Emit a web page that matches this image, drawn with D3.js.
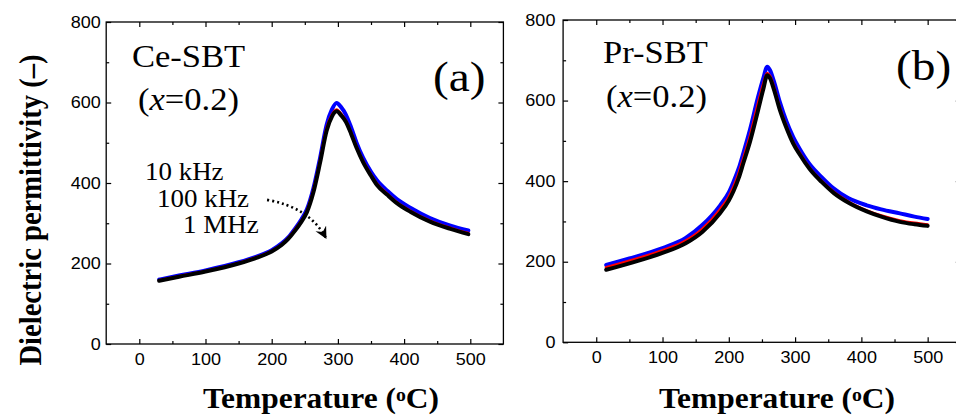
<!DOCTYPE html>
<html>
<head>
<meta charset="utf-8">
<script src="https://cdn.jsdelivr.net/npm/d3@7"></script>
<style>
  body { margin: 0; background: #fff; }
  svg { display: block; }
</style>
</head>
<body>
<svg width="956" height="419"></svg>
<script>
// (a) Ce-SBT, x=0.2
const tempA = [30, 60, 100, 150, 175, 200, 215, 225, 235, 245, 253, 263, 273, 283, 291, 298, 305, 312, 320, 328, 338, 350, 359, 375, 389, 410, 439, 470, 497]
const epsA10k = [160, 170, 183, 203, 216, 233, 250, 265, 286, 310, 334, 387, 462, 545, 583, 599, 588, 570, 538, 501, 463, 428, 407, 380, 360, 338, 313, 294, 282]
const epsA100k = [158, 168, 181, 201, 214, 231, 247, 263, 283, 306, 329, 381, 454, 535, 569, 582, 571, 554, 524, 490, 454, 420, 398, 372, 352, 330, 306, 288, 275]
const epsA1M = [157, 167, 180, 200, 213, 230, 246, 261, 281, 304, 327, 377, 450, 530, 565, 578, 568, 552, 522, 488, 452, 418, 395, 370, 350, 328, 304, 286, 273]

// (b) Pr-SBT, x=0.2
const tempB = [15, 50, 100, 135, 160, 187, 200, 207, 215, 222, 232, 244, 252, 258, 262, 268, 277, 287, 297, 307, 322, 340, 358, 380, 408, 430, 458, 480, 500]
const epsB10k = [192, 208, 234, 259, 291, 340, 372, 398, 432, 470, 528, 608, 655, 684, 676, 648, 596, 548, 510, 480, 442, 410, 382, 358, 340, 330, 320, 312, 306]
const epsB100k = [186, 202, 228, 252, 281, 330, 361, 385, 419, 456, 511, 591, 640, 668, 661, 633, 581, 535, 497, 469, 432, 400, 373, 349, 327, 314, 302, 296, 292]
const epsB1M = [180, 196, 222, 246, 274, 321, 352, 375, 408, 445, 498, 575, 628, 663, 656, 628, 577, 532, 494, 466, 430, 398, 371, 347, 325, 312, 299, 293, 289]

const majorX = [0, 100, 200, 300, 400, 500]
const minorX = [50, 150, 250, 350, 450]
const majorY = [0, 200, 400, 600, 800]
const minorY = [100, 300, 500, 700]
const freqLabels = ['10 kHz', '100 kHz', '1 MHz']

const seriesColors = ['#0000ff', '#ff0000', '#000000']
const seriesWidths = [4, 3, 4]

const serif = "'Liberation Serif', 'Times New Roman', Times, serif"
const sans = "'Liberation Sans', Arial, sans-serif"
// the original figure is a bit wider than tall, so glyphs look stretched sideways
const SX = 1.1

const svg = d3.select('svg')
svg.append('rect').attr('width', 956).attr('height', 419).attr('fill', '#fff')

const defs = svg.append('defs')
defs.append('marker')
  .attr('id', 'arrow')
  .attr('markerUnits', 'userSpaceOnUse')
  .attr('markerWidth', 14)
  .attr('markerHeight', 14)
  .attr('refX', 11)
  .attr('refY', 6)
  .attr('orient', 'auto')
  .append('path')
  .attr('d', 'M0,0 L12,6 L0,12 L4,6 Z')
  .attr('fill', '#000')

function label(parent, x, y, size, opts = {}) {
  return parent.append('text')
    .attr('transform', `translate(${x},${y}) scale(${SX},1)`)
    .attr('font-family', serif)
    .attr('font-size', size)
    .attr('font-weight', opts.bold ? 'bold' : null)
    .attr('text-anchor', opts.anchor || 'start')
}

function styleAxis(g) {
  g.select('.domain').remove()
  g.selectAll('line').attr('stroke', '#000').attr('stroke-width', 1.2)
  g.selectAll('text')
    .attr('font-family', sans)
    .attr('font-size', 16.4)
    .attr('fill', '#000')
    .attr('transform', `scale(${SX},1)`)
}

function drawPanel(p) {
  const x = d3.scaleLinear().domain([-50, 550]).range([p.left, p.right])
  const y = d3.scaleLinear().domain([0, 800]).range([p.bottom, p.top])
  const g = svg.append('g')

  // curves: 10 kHz, 100 kHz, 1 MHz
  const line = d3.line()
    .x(d => x(d[0]))
    .y(d => y(d[1]))
    .curve(d3.curveMonotoneX)

  p.series.forEach((s, i) => {
    g.append('path')
      .datum(d3.zip(p.temp, s))
      .attr('d', line)
      .attr('fill', 'none')
      .attr('stroke', seriesColors[i])
      .attr('stroke-width', seriesWidths[i])
      .attr('stroke-linecap', 'round')
      .attr('stroke-linejoin', 'round')
  })

  // ticks point inward on all four sides
  g.append('g')
    .attr('transform', `translate(0,${p.bottom})`)
    .call(d3.axisBottom(x).tickValues(majorX).tickSize(-5).tickPadding(9))
    .call(styleAxis)
  g.append('g')
    .attr('transform', `translate(0,${p.bottom})`)
    .call(d3.axisBottom(x).tickValues(minorX).tickSize(-3).tickFormat(''))
    .call(styleAxis)
  g.append('g')
    .attr('transform', `translate(0,${p.top})`)
    .call(d3.axisTop(x).tickValues(majorX).tickSize(-5).tickFormat(''))
    .call(styleAxis)
  g.append('g')
    .attr('transform', `translate(0,${p.top})`)
    .call(d3.axisTop(x).tickValues(minorX).tickSize(-3).tickFormat(''))
    .call(styleAxis)

  g.append('g')
    .attr('transform', `translate(${p.left},0)`)
    .call(d3.axisLeft(y).tickValues(majorY).tickSize(-5).tickPadding(p.yPad))
    .call(styleAxis)
  g.append('g')
    .attr('transform', `translate(${p.left},0)`)
    .call(d3.axisLeft(y).tickValues(minorY).tickSize(-3).tickFormat(''))
    .call(styleAxis)
  g.append('g')
    .attr('transform', `translate(${p.right},0)`)
    .call(d3.axisRight(y).tickValues(majorY).tickSize(-5).tickFormat(''))
    .call(styleAxis)
  g.append('g')
    .attr('transform', `translate(${p.right},0)`)
    .call(d3.axisRight(y).tickValues(minorY).tickSize(-3).tickFormat(''))
    .call(styleAxis)

  g.append('rect')
    .attr('x', p.left)
    .attr('y', p.top)
    .attr('width', p.right - p.left)
    .attr('height', p.bottom - p.top)
    .attr('fill', 'none')
    .attr('stroke', '#000')
    .attr('stroke-width', 1.3)

  // x axis title
  const xt = label(g, p.xTitleX, 408, 28.6, { bold: true, anchor: 'middle' })
  xt.append('tspan').text('Temperature (')
  xt.append('tspan').attr('baseline-shift', '35%').attr('font-size', 18).text('o')
  xt.append('tspan').text('C)')

  // sample name and composition
  label(g, p.nameX, p.nameY, 31.4).text(p.name)
  const comp = label(g, p.compX, p.compY, 31.4)
  comp.append('tspan').text('(')
  comp.append('tspan').attr('font-style', 'italic').text('x')
  comp.append('tspan').text('=0.2)')

  label(g, p.tagX, p.tagY, 43).text(p.tag)

  return { g, x, y }
}

const panelA = drawPanel({
  left: 106.2, right: 503.4, top: 22, bottom: 344, yPad: 5,
  temp: tempA, series: [epsA10k, epsA100k, epsA1M],
  xTitleX: 321, name: 'Ce-SBT', nameX: 132, nameY: 67,
  compX: 138, compY: 110, tag: '(a)', tagX: 433, tagY: 91
})

drawPanel({
  left: 563.1, right: 960.8, top: 20, bottom: 342.3, yPad: 7,
  temp: tempB, series: [epsB10k, epsB100k, epsB1M],
  xTitleX: 777, name: 'Pr-SBT', nameX: 603, nameY: 63,
  compX: 606, compY: 107, tag: '(b)', tagX: 896, tagY: 80
})

// frequency labels and arrow in panel (a)
const freqPos = [[145, 180], [157, 207], [183, 233]]
freqLabels.forEach((t, i) => {
  label(svg, freqPos[i][0], freqPos[i][1], 24.5).text(t)
})

// arrow defined in data units (temperature, permittivity)
const arrowPts = [[193, 358], [257, 340], [282, 263]]
const ax = panelA.x, ay = panelA.y
svg.append('path')
  .attr('d', `M${ax(arrowPts[0][0])},${ay(arrowPts[0][1])} Q${ax(arrowPts[1][0])},${ay(arrowPts[1][1])} ${ax(arrowPts[2][0])},${ay(arrowPts[2][1])}`)
  .attr('fill', 'none')
  .attr('stroke', '#000')
  .attr('stroke-width', 2.6)
  .attr('stroke-dasharray', '2,3')
  .attr('marker-end', 'url(#arrow)')

// shared y axis title
svg.append('text')
  .attr('transform', `translate(41,210) scale(${SX},1) rotate(-90)`)
  .attr('text-anchor', 'middle')
  .attr('font-family', serif)
  .attr('font-weight', 'bold')
  .attr('font-size', 28.6)
  .text('Dielectric permittivity (–)')
</script>
</body>
</html>
